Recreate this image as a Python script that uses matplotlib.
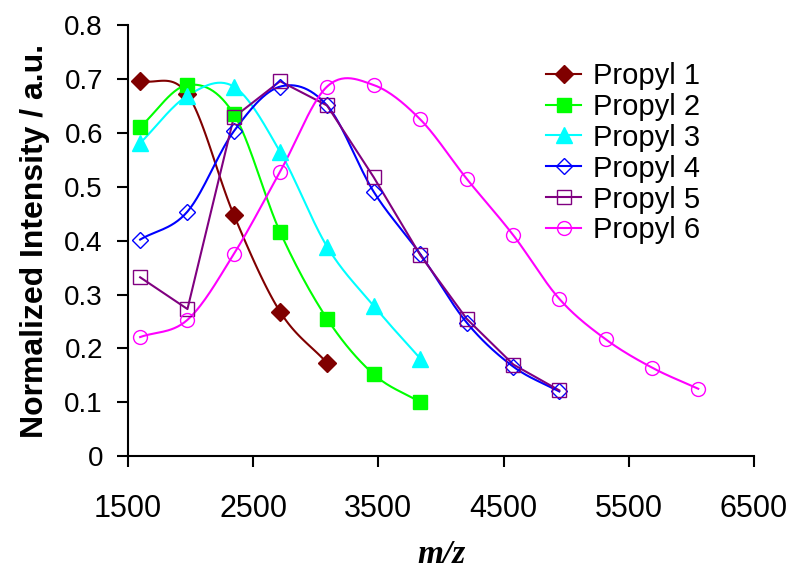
import numpy as np
import matplotlib
matplotlib.use("Agg")
import matplotlib.pyplot as plt

# m/z positions of the peaks
mz = [1597, 1975, 2345, 2715, 3090, 3462, 3835, 4205, 4578, 4945, 5315, 5688, 6055]

propyl1 = [0.697, 0.672, 0.448, 0.268, 0.173]
propyl2 = [0.611, 0.689, 0.635, 0.416, 0.255, 0.152, 0.100]
propyl3 = [0.581, 0.669, 0.686, 0.565, 0.389, 0.279, 0.181]
propyl4 = [0.402, 0.454, 0.603, 0.686, 0.651, 0.491, 0.375, 0.248, 0.166, 0.120]
propyl5 = [0.332, 0.273, 0.629, 0.696, 0.651, 0.518, 0.373, 0.255, 0.170, 0.122]
propyl6 = [0.221, 0.253, 0.375, 0.528, 0.686, 0.689, 0.625, 0.515, 0.410,
           0.292, 0.217, 0.164, 0.125]

# name, values, colour, marker, marker size, face, smoothed line
series = [
    ("Propyl 1", propyl1, "#800000", "D", 9, "#800000", True),
    ("Propyl 2", propyl2, "#00FF00", "s", 10, "#00FF00", True),
    ("Propyl 3", propyl3, "#00FFFF", "^", 11, "#00FFFF", True),
    ("Propyl 4", propyl4, "#0000FF", "D", 8.5, "none", True),
    ("Propyl 5", propyl5, "#800080", "s", 10, "none", False),
    ("Propyl 6", propyl6, "#FF00FF", "o", 10, "none", True),
]


def smooth(x, y, n=30):
    # Catmull-Rom curve through the points (like Excel's smoothed line)
    x = np.asarray(x, float)
    y = np.asarray(y, float)
    px = np.concatenate([[2 * x[0] - x[1]], x, [2 * x[-1] - x[-2]]])
    py = np.concatenate([[2 * y[0] - y[1]], y, [2 * y[-1] - y[-2]]])
    xs, ys = [], []
    t = np.linspace(0, 1, n)
    for i in range(1, len(px) - 2):
        for p, out in ((px, xs), (py, ys)):
            p0, p1, p2, p3 = p[i - 1], p[i], p[i + 1], p[i + 2]
            out.append(0.5 * (2 * p1 + (-p0 + p2) * t
                              + (2 * p0 - 5 * p1 + 4 * p2 - p3) * t ** 2
                              + (-p0 + 3 * p1 - 3 * p2 + p3) * t ** 3))
    return np.concatenate(xs), np.concatenate(ys)


plt.rcParams['font.family'] = ['Liberation Sans', 'DejaVu Sans']

fig = plt.figure(figsize=(7.92, 5.73), dpi=100)
ax = fig.add_axes([0.1616, 0.204, 0.7904, 0.752])

for name, vals, col, mk, ms, fc, sm in series:
    x = mz[:len(vals)]
    if sm:
        sx, sy = smooth(x, vals)
    else:
        sx, sy = x, vals
    ax.plot(sx, sy, color=col, lw=1.5, zorder=2)
    ax.plot(x, vals, linestyle="none", marker=mk, ms=ms,
            mfc=fc, mec=col, mew=1.0, zorder=3)
    ax.plot([], [], color=col, lw=1.5, marker=mk, ms=ms,
            mfc=fc, mec=col, mew=1.0, label=name)

ax.set_xlim(1500, 6500)
ax.set_ylim(0, 0.8)
ax.set_xticks(np.arange(1500, 6501, 1000))
ax.set_yticks(np.arange(0, 0.81, 0.1))
ax.set_yticklabels(["0"] + ["%.1f" % v for v in np.arange(0.1, 0.81, 0.1)])

for s in ("top", "right"):
    ax.spines[s].set_visible(False)
for s in ("left", "bottom"):
    ax.spines[s].set_linewidth(1.5)
ax.tick_params(axis="both", width=1.5, length=8, direction="out")
ax.tick_params(axis="y", labelsize=20, pad=10)
ax.tick_params(axis="x", labelsize=22, pad=19)

ax.set_ylabel("Normalized Intensity / a.u.", fontsize=23, fontweight="bold", labelpad=10)
ax.set_xlabel("m/z", fontsize=24, fontweight="bold", fontstyle="italic",
              family=["Liberation Serif", "DejaVu Serif"], labelpad=11)

ax.legend(loc="upper left", bbox_to_anchor=(0.668, 0.915), frameon=False,
          fontsize=21, handlelength=1.2, handletextpad=0.4, labelspacing=0.1,
          borderpad=0, borderaxespad=0)

fig.savefig("out.png", dpi=100)
